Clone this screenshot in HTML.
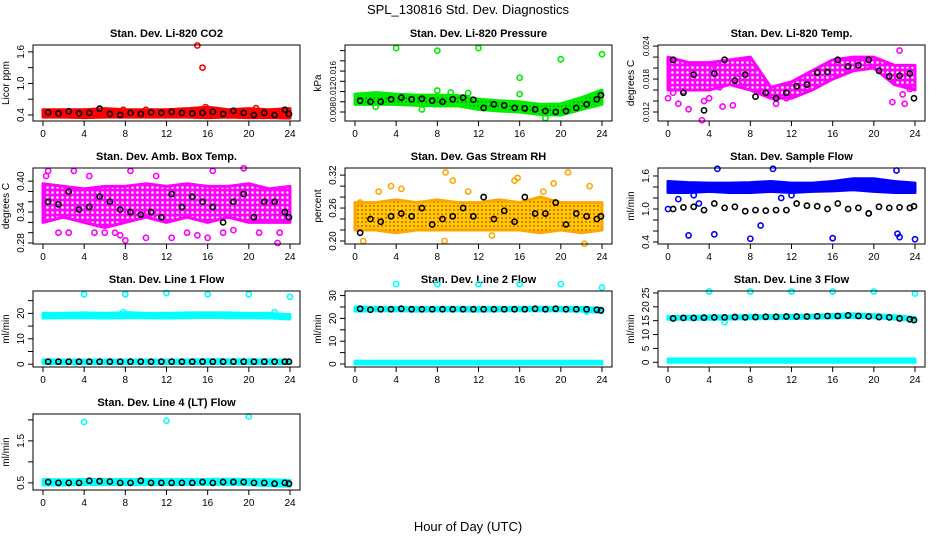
<!DOCTYPE html>
<html><head><meta charset="utf-8">
<style>
body{margin:0;background:#fff;}
svg{display:block;font-family:"Liberation Sans",sans-serif;}
</style></head>
<body>
<svg id="chart" width="936" height="540" viewBox="0 0 936 540" xmlns="http://www.w3.org/2000/svg">
<defs>
<pattern id="pat-mag" width="5" height="5" patternUnits="userSpaceOnUse"><rect width="5" height="5" fill="#ff00ff"/><circle cx="2.5" cy="2.5" r="1.3" fill="#fff"/></pattern>
<pattern id="pat-rh" width="4" height="4" patternUnits="userSpaceOnUse"><rect width="4" height="4" fill="#ffd000"/><circle cx="2" cy="2" r="0.9" fill="#ff2000"/></pattern>
<pattern id="pat-grn" width="4" height="4" patternUnits="userSpaceOnUse"><rect width="4" height="4" fill="#00ee00"/><circle cx="2" cy="2" r="0.7" fill="#006000"/></pattern>
</defs>
<text x="468" y="14" text-anchor="middle" font-size="13">SPL_130816  Std. Dev. Diagnostics</text>
<text x="468" y="531" text-anchor="middle" font-size="13">Hour of Day (UTC)</text>
</svg>
<script>
const bandHours=[0,2,4,6,8,10,12,14,16,18,20,22,24];
const blackHours=[0.5,1.5,2.5,3.5,4.5,5.5,6.5,7.5,8.5,9.5,10.5,11.5,12.5,13.5,14.5,15.5,16.5,17.5,18.5,19.5,20.5,21.5,22.5,23.5,23.9];
const xTicks=[0,4,8,12,16,20,24];

const co2Lo=[.36,.36,.35,.36,.36,.36,.36,.36,.35,.36,.35,.35,.34];
const co2Hi=[.5,.5,.5,.52,.5,.5,.5,.52,.55,.5,.52,.5,.52];
const co2ExX=[15,15.5,15.8,20.7,10,7.8];
const co2ExY=[1.72,1.3,.55,.53,.5,.5];
const co2Blk=[.45,.43,.47,.43,.44,.52,.42,.4,.44,.42,.45,.44,.46,.44,.43,.44,.46,.42,.48,.44,.4,.44,.4,.5,.42];
const prLo=[.0095,.0095,.0095,.0093,.0092,.0092,.0085,.0082,.0080,.0075,.0074,.0085,.0095];
const prHi=[.0115,.0118,.0115,.0113,.0113,.0112,.0105,.0102,.0100,.0095,.0096,.0108,.0123];
const prExX=[4,8,12,16,20,24,16,8,11,6.5,18.5,2,9.3];
const prExY=[.0205,.0200,.0205,.0147,.0183,.0193,.0115,.0122,.0117,.0085,.0068,.0090,.0118];
const prBlk=[.0102,.0100,.0100,.0105,.0108,.0105,.0106,.0102,.0100,.0105,.0108,.0104,.0088,.0095,.0093,.0088,.0087,.0085,.0082,.0080,.0082,.0088,.0095,.0105,.0113];
const tpLo=[.016,.016,.016,.017,.016,.0145,.0145,.016,.018,.0195,.02,.017,.016];
const tpHi=[.022,.021,.021,.0215,.022,.0165,.0175,.0195,.0215,.022,.022,.0205,.0205];
const tpExX=[0,0.5,1,2,3.3,3.5,4,5,5.3,6.3,7.7,9,10.5,1.5,2.8,4.5,6.8,7.3,11.5,22.5,23,21.8,22.8,13.5,23.5];
const tpExY=[.0145,.0155,.0135,.0125,.0105,.014,.0145,.0165,.013,.0132,.0165,.0158,.0135,.0158,.0165,.0205,.019,.0175,.0145,.0232,.0135,.0138,.0152,.0165,.0162];
const tpBlk=[.0215,.0155,.0188,.0123,.019,.0215,.0177,.0188,.0148,.0155,.0145,.0155,.0167,.0170,.0192,.0193,.0215,.0203,.0205,.0215,.0195,.0185,.0186,.019,.0145];
const abLo=[.32,.33,.32,.31,.32,.33,.32,.33,.32,.33,.32,.32,.32];
const abHi=[.395,.39,.385,.39,.39,.395,.39,.395,.39,.39,.395,.385,.39];
const abExX=[0.3,1.5,2.5,4.5,5,6,7,7.5,8,10,12.5,14,15,16,17.5,18.5,21,22.8,23,0.5,3,8.5,11,16.5,19.5];
const abExY=[.41,.3,.3,.41,.3,.3,.3,.295,.285,.29,.29,.3,.295,.29,.3,.305,.3,.28,.3,.42,.42,.42,.41,.42,.425];
const abBlk=[.36,.355,.38,.345,.35,.37,.36,.345,.34,.335,.34,.33,.375,.35,.37,.36,.35,.32,.36,.375,.33,.36,.36,.34,.33];
const rhLo=[.22,.22,.215,.22,.22,.22,.22,.22,.22,.215,.22,.215,.22];
const rhHi=[.27,.27,.275,.27,.275,.27,.27,.275,.27,.28,.27,.27,.27];
const rhExX=[0.8,2.3,3.5,4.5,8.7,9.5,11,15.5,15.8,19.3,20.7,22.3,22.8,8.8,13.3,18.3,0.5];
const rhExY=[.2,.29,.3,.295,.2,.31,.29,.31,.315,.305,.325,.195,.3,.325,.21,.29,.27];
const rhBlk=[.215,.24,.235,.245,.25,.245,.26,.23,.24,.245,.26,.245,.28,.24,.255,.235,.28,.25,.25,.27,.23,.25,.245,.24,.245];
const sfLo=[1.3,1.3,1.32,1.3,1.3,1.32,1.3,1.32,1.33,1.35,1.32,1.3,1.3];
const sfHi=[1.5,1.48,1.47,1.47,1.48,1.5,1.47,1.47,1.5,1.55,1.55,1.5,1.47];
const sfExX=[2,4.5,8,9,16,22.3,22.5,24,4.8,10.2,22.2,1,11,0,2.5,3,12,19.5];
const sfExY=[.52,.54,.46,.7,.47,.55,.49,.45,1.73,1.73,1.7,1.18,1.2,1.0,1.25,1.1,1.25,.92];
const sfBlk=[1.0,1.03,1.04,.98,1.1,1.02,1.04,.96,.98,.97,.98,.98,1.1,1.06,1.05,1.0,1.1,1.0,1.02,0.92,1.04,1.02,1.03,1.02,1.05];
const l1Lo=[18.2,18.3,18.3,18.2,18.3,18.3,18.2,18.3,18.4,18.3,18.3,18.2,17.8];
const l1Hi=[20,20,20.2,20,20.3,20,20,20.2,20.2,20.2,20,20,19.5];
const l1ExX=[4,8,12,16,20,24,7.8,22.5];
const l1ExY=[27.5,27.5,28,27.5,27.5,26.5,20.5,20.5];
const l1LoBandLo=[0.3,0.3,0.3,0.3,0.3,0.3,0.3,0.3,0.3,0.3,0.3,0.3,0.3];
const l1LoBandHi=[1.7,1.6,1.6,1.6,1.6,1.6,1.6,1.6,1.8,1.7,1.7,1.7,1.6];
const l1Blk=[1,1,1,1,1,1,1,1,1,1,1,1,1,1,1,1,1,1,1,1,1,1,1,1,1];
const l2Lo=[23.2,23.3,23.3,23.2,23.3,23.3,23.2,23.3,23.4,23.3,23.3,23.2,22.5];
const l2Hi=[25,24.8,24.8,24.8,24.8,24.8,24.8,24.8,24.8,24.9,24.8,24.8,24.5];
const l2ExX=[4,8,12,16,20,24,22.5];
const l2ExY=[35,35,35,35,35,33.5,23];
const l2LoBandLo=[0,0,0,0,0,0,0,0,0,0,0,0,0];
const l2LoBandHi=[1.3,1.2,1.2,1.2,1.2,1.2,1.2,1.2,1.2,1.2,1.2,1.2,1.2];
const l2Blk=[24.2,23.8,24,24,24.2,24,24,24,24,24,24,24,24,24,24,24,24,24.2,24,24.2,24,24,24,23.8,23.5];
const l3Lo=[15.5,15.5,15.5,15.6,15.7,15.8,15.8,15.9,16,16.2,16.1,15.6,15];
const l3Hi=[16.5,16.6,16.7,16.7,16.8,16.8,16.9,17,17.2,17.5,17.2,16.8,16.2];
const l3ExX=[4,8,12,16,20,24,5.5];
const l3ExY=[25.5,25.5,25.5,25.5,25.5,24.8,14.5];
const l3LoBandLo=[0,0,0,0,0,0,0,0,0,0,0,0,0];
const l3LoBandHi=[1.2,1.2,1.2,1.2,1.2,1.2,1.2,1.2,1.2,1.2,1.2,1.2,1.2];
const l3Blk=[15.8,16,16,16.1,16.2,16.2,16.3,16.2,16.3,16.4,16.4,16.5,16.5,16.5,16.6,16.7,16.7,16.9,16.7,16.5,16.3,16.2,15.8,15.5,15.2];
const l4Lo=[.45,.45,.46,.46,.46,.46,.46,.46,.46,.46,.46,.43,.42];
const l4Hi=[.58,.57,.58,.58,.58,.58,.58,.58,.58,.59,.58,.57,.56];
const l4ExX=[4,12,20];
const l4ExY=[1.95,1.98,2.08];
const l4Blk=[.52,.5,.5,.5,.55,.54,.53,.5,.5,.55,.5,.5,.5,.5,.5,.52,.5,.52,.52,.52,.5,.5,.48,.5,.48];

const panels=[
 {title:"Stan. Dev. Li-820 CO2",ylab:"Licor ppm",col:0,row:0,ymin:.286,ymax:1.73,yt:[.4,.7,1.0,1.3,1.6],yl:[.4,1.0,1.6],dec:1,c:"#ff0000",fill:"#ff0000",lo:co2Lo,hi:co2Hi,ex:co2ExX,ey:co2ExY,blk:co2Blk},
 {title:"Stan. Dev. Li-820 Pressure",ylab:"kPa",col:1,row:0,ymin:.00624,ymax:.0211,yt:[.008,.010,.012,.014,.016,.018,.020],yl:[.008,.012,.016],dec:3,fs:8,c:"#00ee00",fill:"url(#pat-grn)",lo:prLo,hi:prHi,ex:prExX,ey:prExY,blk:prBlk},
 {title:"Stan. Dev. Li-820 Temp.",ylab:"degrees C",col:2,row:0,ymin:.01036,ymax:.0242,yt:[.012,.014,.016,.018,.020,.022,.024],yl:[.012,.018,.024],dec:3,fs:8,c:"#ff00ff",fill:"url(#pat-mag)",lo:tpLo,hi:tpHi,ex:tpExX,ey:tpExY,blk:tpBlk},
 {title:"Stan. Dev. Amb. Box Temp.",ylab:"degrees C",col:0,row:1,ymin:.278,ymax:.4256,yt:[.28,.30,.32,.34,.36,.38,.40],yl:[.28,.34,.40],dec:2,c:"#ff00ff",fill:"url(#pat-mag)",lo:abLo,hi:abHi,ex:abExX,ey:abExY,blk:abBlk},
 {title:"Stan. Dev. Gas Stream RH",ylab:"percent",col:1,row:1,ymin:.1945,ymax:.333,yt:[.20,.22,.24,.26,.28,.30,.32],yl:[.20,.26,.32],dec:2,c:"#ffa500",fill:"url(#pat-rh)",lo:rhLo,hi:rhHi,ex:rhExX,ey:rhExY,blk:rhBlk},
 {title:"Stan. Dev. Sample Flow",ylab:"ml/min",col:2,row:1,ymin:.364,ymax:1.745,yt:[.4,.6,.8,1.0,1.2,1.4,1.6],yl:[.4,1.0,1.6],dec:1,c:"#0000ff",fill:"#0000ff",lo:sfLo,hi:sfHi,ex:sfExX,ey:sfExY,blk:sfBlk},
 {title:"Stan. Dev. Line 1 Flow",ylab:"ml/min",col:0,row:2,ymin:-1.1,ymax:28.8,yt:[0,5,10,15,20,25],yl:[0,10,20],dec:0,c:"#00ffff",fill:"#00ffff",lo:l1Lo,hi:l1Hi,lo2:l1LoBandLo,hi2:l1LoBandHi,ex:l1ExX,ey:l1ExY,blk:l1Blk},
 {title:"Stan. Dev. Line 2 Flow",ylab:"ml/min",col:1,row:2,ymin:-1.3,ymax:32,yt:[0,5,10,15,20,25,30],yl:[0,10,20,30],dec:0,c:"#00ffff",fill:"#00ffff",lo:l2Lo,hi:l2Hi,lo2:l2LoBandLo,hi2:l2LoBandHi,ex:l2ExX,ey:l2ExY,blk:l2Blk},
 {title:"Stan. Dev. Line 3 Flow",ylab:"ml/min",col:2,row:2,ymin:-1.7,ymax:25.7,yt:[0,5,10,15,20,25],yl:[0,5,10,15,20,25],dec:0,c:"#00ffff",fill:"#00ffff",lo:l3Lo,hi:l3Hi,lo2:l3LoBandLo,hi2:l3LoBandHi,ex:l3ExX,ey:l3ExY,blk:l3Blk},
 {title:"Stan. Dev. Line 4 (LT) Flow",ylab:"ml/min",col:0,row:3,ymin:.33,ymax:2.14,yt:[.5,1.0,1.5,2.0],yl:[.5,1.5],dec:1,c:"#00ffff",fill:"#00ffff",lo:l4Lo,hi:l4Hi,ex:l4ExX,ey:l4ExY,blk:l4Blk}
];
const colL=[33,345,658], W=267, rowT=[45,168,291,414], H=76;
const NS="http://www.w3.org/2000/svg";
const svg=document.getElementById('chart');
function mk(tag,attrs,parent){const e=document.createElementNS(NS,tag);for(const k in attrs)e.setAttribute(k,attrs[k]);(parent||svg).appendChild(e);return e;}
function circ(g,x,y,c){const e=mk('circle',{cx:x,cy:y,r:2.6,fill:'none',stroke:c,'stroke-width':1.6},g);

}

panels.forEach((p,i)=>{
 const L=colL[p.col],T=rowT[p.row];
 const g=mk('g',{});
 
 
 const sx=v=>L+10+v/24*(W-20);
 const sy=v=>T+H-(v-p.ymin)/(p.ymax-p.ymin)*H;
 const t=mk('text',{x:L+W/2,y:T-8,'text-anchor':'middle','font-size':11,'font-weight':'bold'},g);t.textContent=p.title;
 
 
 const yl=mk('text',{x:0,y:0,'text-anchor':'middle','font-size':10,transform:`translate(${L-24},${T+H/2}) rotate(-90)`},g);yl.textContent=p.ylab;
 
 
 const drawBand=(lo,hi,fill,stroke)=>{
  let pts=bandHours.map((h,k)=>sx(h)+','+sy(hi[k]));
  pts=pts.concat(bandHours.slice().reverse().map((h,k)=>sx(h)+','+sy(lo[bandHours.length-1-k])));
  const b=mk('polygon',{points:pts.join(' '),fill:fill,stroke:stroke,'stroke-width':3,'stroke-linejoin':'round'},g);
  
  
 };
 drawBand(p.lo,p.hi,p.fill,p.c);
 if(p.lo2)drawBand(p.lo2,p.hi2,p.fill,p.c);
 p.ex.forEach((x,k)=>circ(g,sx(x),sy(p.ey[k]),p.c));
 p.blk.forEach((v,k)=>circ(g,sx(blackHours[k]),sy(v),'#000'));
 const bx=mk('rect',{x:L,y:T,width:W,height:H,fill:'none',stroke:'#000','stroke-width':1},g);
 
 
 xTicks.forEach(v=>{mk('line',{x1:sx(v),x2:sx(v),y1:T+H,y2:T+H+5,stroke:'#000'},g);
  const tx=mk('text',{x:sx(v),y:T+H+16,'text-anchor':'middle','font-size':10},g);tx.textContent=v;
  
  });
 p.yt.forEach(v=>{if(v<p.ymin||v>p.ymax)return;mk('line',{x1:L,x2:L-5,y1:sy(v),y2:sy(v),stroke:'#000'},g);});
 p.yl.forEach(v=>{const ty=mk('text',{x:0,y:0,'text-anchor':'middle','font-size':p.fs||10,transform:`translate(${L-9},${sy(v)}) rotate(-90)`},g);ty.textContent=v.toFixed(p.dec);
  
  });
});
</script>
</body></html>
